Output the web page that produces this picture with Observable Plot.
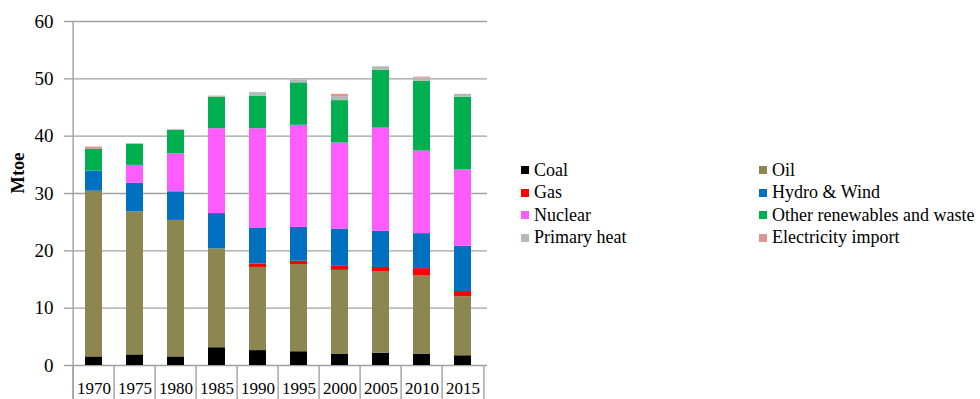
<!DOCTYPE html>
<html>
<head>
<meta charset="utf-8">
<script src="https://cdn.jsdelivr.net/npm/d3@7"></script>
<script src="https://cdn.jsdelivr.net/npm/@observablehq/plot@0.6"></script>
<style>
  body { margin: 0; background: #fff; }
  #wrap { position: relative; width: 980px; height: 399px; font-family: "Liberation Serif", "Times New Roman", serif; }
  #legend { position: absolute; left: 521px; top: 159px; display: grid; grid-template-columns: 238px auto; grid-auto-rows: 22.5px; font-size: 18px; color: #000; }
  .item { display: flex; align-items: center; white-space: nowrap; }
  .sw { width: 8px; height: 8px; margin-right: 5px; flex: none; }
</style>
</head>
<body>
<div id="wrap"><div id="legend"></div></div>
<script>
const years = ["1970","1975","1980","1985","1990","1995","2000","2005","2010","2015"];
const series = ["Coal","Oil","Gas","Hydro & Wind","Nuclear","Other renewables and waste","Primary heat","Electricity import"];
const colors = ["#000000","#8c8650","#ff0000","#0070c0","#ff5cff","#00b050","#b3b9b6","#dc9590"];

const coal    = [1.5, 1.85, 1.5, 3.1, 2.6, 2.4, 2.0, 2.15, 2.0, 1.7];
const oil     = [28.9, 24.95, 23.8, 17.25, 14.5, 15.2, 14.6, 14.15, 13.6, 10.3];
const gas     = [0, 0, 0, 0, 0.6, 0.6, 0.7, 0.8, 1.3, 0.9];
const hydro   = [3.5, 5.0, 5.0, 6.15, 6.2, 5.9, 6.5, 6.3, 6.1, 7.9];
const nuclear = [0, 3.1, 6.6, 14.8, 17.4, 17.8, 15.0, 18.0, 14.4, 13.3];
const otherRen= [3.8, 3.7, 4.1, 5.5, 5.7, 7.4, 7.4, 10.1, 12.2, 12.7];
const heat    = [0, 0.1, 0, 0.2, 0.6, 0.5, 0.7, 0.6, 0.5, 0.5];
const imports = [0.4, 0, 0.1, 0, 0, 0, 0.4, 0, 0.2, 0];
const yTicks  = [0, 10, 20, 30, 40, 50, 60];

const valuesBySeries = [coal, oil, gas, hydro, nuclear, otherRen, heat, imports];
const data = [];
years.forEach((yr, i) => {
  series.forEach((s, j) => data.push({year: yr, series: s, value: valuesBySeries[j][i]}));
});

const W = 980, H = 399, ML = 69, MR = 493, MT = 21, MB = 34;
const step = (W - ML - MR) / years.length;
const grid = "#a0a0a0";

const chart = Plot.plot({
  width: W, height: H,
  marginLeft: ML, marginRight: MR, marginTop: MT, marginBottom: MB,
  style: {fontFamily: "'Liberation Serif', 'Times New Roman', serif", background: "#fff", color: "#000"},
  x: {type: "band", domain: years, paddingInner: 0.59, paddingOuter: 0.295, axis: null, label: null},
  y: {domain: [0, 60], axis: null, label: null},
  color: {domain: series, range: colors},
  marks: [
    Plot.ruleY(yTicks, {stroke: grid, strokeWidth: 1.4}),
    Plot.ruleX([years[0]], {dx: -step / 2, y1: -5.95, y2: 60, stroke: grid, strokeWidth: 1.4}),
    Plot.ruleX(years, {dx: -step / 2, y1: -5.95, y2: 0, stroke: grid, strokeWidth: 1.4}),
    Plot.ruleX([years[years.length - 1]], {dx: step / 2, y1: -5.95, y2: 0, stroke: grid, strokeWidth: 1.4}),
    Plot.barY(data, {x: "year", y: "value", fill: "series", order: series}),
    Plot.axisY({ticks: yTicks, label: null, tickSize: 5, tickPadding: 11, stroke: grid, strokeWidth: 1.4, fill: "#000", fontSize: 19, tickFormat: d => d}),
    Plot.axisX({label: null, tickSize: 0, tickPadding: 16, fontSize: 17, fill: "#000"}),
    Plot.text(["Mtoe"], {frameAnchor: "left", dx: -51, rotate: -90, fontWeight: "bold", fontSize: 18.5, fill: "#000"})
  ]
});
document.getElementById("wrap").prepend(chart);

const legend = document.getElementById("legend");
series.forEach((s, j) => {
  const item = document.createElement("div");
  item.className = "item";
  const sw = document.createElement("span");
  sw.className = "sw";
  sw.style.background = colors[j];
  const t = document.createElement("span");
  t.textContent = s;
  item.append(sw, t);
  legend.append(item);
});
</script>
</body>
</html>
